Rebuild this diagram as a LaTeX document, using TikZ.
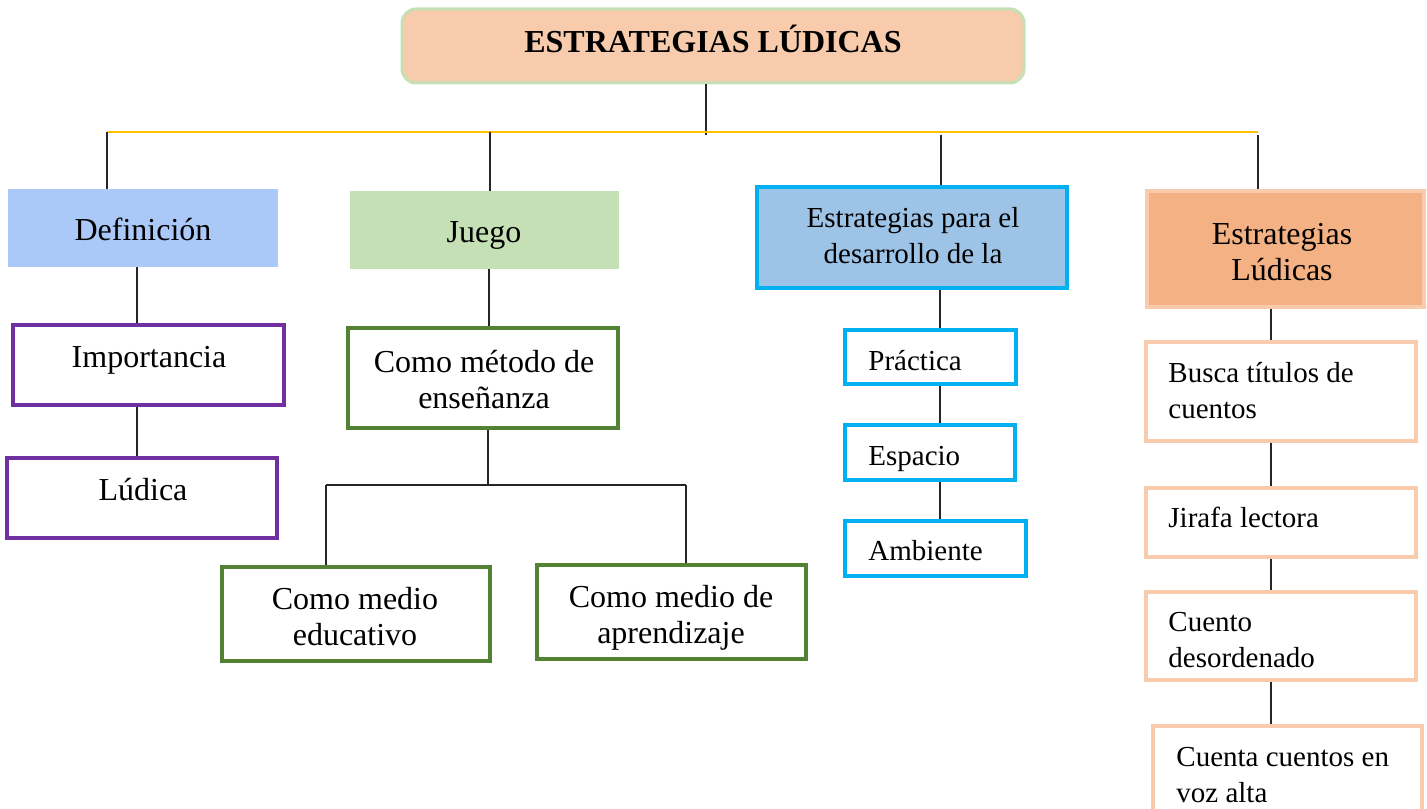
\documentclass[tikz,border=0pt]{standalone}
\usepackage{fontspec}
\setmainfont{Liberation Serif}
\usetikzlibrary{fit}
\definecolor{peach}{HTML}{F7CBAC}
\definecolor{lgreen}{HTML}{C5E0B4}
\definecolor{gold}{HTML}{FFC000}
\definecolor{defblue}{HTML}{AAC8F8}
\definecolor{midblue}{HTML}{9DC3E6}
\definecolor{cyanb}{HTML}{00B0F0}
\definecolor{orangef}{HTML}{F4B183}
\definecolor{purpleb}{HTML}{7030A0}
\definecolor{greenb}{HTML}{548235}
\begin{document}
\begin{tikzpicture}[x=0.5pt,y=-0.5pt,
  box/.style={fit={#1}, inner sep=0pt},
  purplebox/.style={draw=purpleb, line width=1.8pt, fill=white},
  greenbox/.style={draw=greenb, line width=2pt, fill=white},
  cyanbox/.style={draw=cyanb, line width=1.8pt, fill=white},
  peachbox/.style={draw=peach, line width=1.6pt, fill=white},
  big/.style={font=\fontsize{16}{18}\selectfont, inner sep=0pt, anchor=base, align=center},
  small/.style={font=\fontsize{14.5}{18}\selectfont, inner sep=0pt, anchor=base west, align=left},
  smallc/.style={font=\fontsize{14.5}{18}\selectfont, inner sep=0pt, anchor=base, align=center},
  conn/.style={draw=black!85, line width=0.6pt}]
\clip (0,0) rectangle (1427,808);
\fill[white] (0,0) rectangle (1427,808);

% title
\node[box={(402,9)(1024,83)}, rounded corners=7pt, fill=peach, draw=lgreen, line width=1.5pt] (title) {};
\node[font=\fontsize{16}{18}\selectfont\bfseries, inner sep=0pt, anchor=base] (titlet) at (713,53) {ESTRATEGIAS LÚDICAS};

% level 1 (multi-line nodes are placed at the baseline of their last line)
\node[box={(8,189)(278,267)}, fill=defblue] (def) {};
\node[big] (deft) at (143,240) {Definición};
\node[box={(350,191)(619,269)}, fill=lgreen] (juego) {};
\node[big] (juegot) at (484,242) {Juego};
\node[box={(757,187)(1067,288)}, fill=midblue, draw=cyanb, line width=1.8pt] (est) {};
\node[smallc] (estt) at (913,263) {Estrategias para el\\desarrollo de la};
\node[box={(1147,191)(1424,307)}, fill=orangef, draw=peach, line width=1.6pt] (lud) {};
\node[big] (ludt) at (1282,280) {Estrategias\\Lúdicas};

% Definicion column
\node[box={(13,325)(284,405)}, purplebox] (imp) {};
\node[big] (impt) at (149,367) {Importancia};
\node[box={(7,458)(277,538)}, purplebox] (ludica) {};
\node[big] (ludicat) at (143,500) {Lúdica};

% Juego column
\node[box={(348,328)(618,428)}, greenbox] (met) {};
\node[big] (mett) at (484,408) {Como método de\\enseñanza};
\node[box={(222,567)(490,661)}, greenbox] (edu) {};
\node[big] (edut) at (355,645) {Como medio\\educativo};
\node[box={(537,565)(806,659)}, greenbox] (apr) {};
\node[big] (aprt) at (671,643) {Como medio de\\aprendizaje};

% Estrategias para el desarrollo column
\node[box={(845,330)(1016,384)}, cyanbox] (prac) {};
\node[small] (pract) at (868,370) {Práctica};
\node[box={(845,425)(1015,480)}, cyanbox] (esp) {};
\node[small] (espt) at (868,465) {Espacio};
\node[box={(845,521)(1026,576)}, cyanbox] (amb) {};
\node[small] (ambt) at (868,560) {Ambiente};

% Estrategias Ludicas column
\node[box={(1146,342)(1416,441)}, peachbox] (busca) {};
\node[small] (buscat) at (1168,418) {Busca títulos de\\cuentos};
\node[box={(1146,488)(1416,557)}, peachbox] (jira) {};
\node[small] (jirat) at (1168,527) {Jirafa lectora};
\node[box={(1146,592)(1416,680)}, peachbox] (cuento) {};
\node[small] (cuentot) at (1168,667) {Cuento\\desordenado};
\node[box={(1153,726)(1422,860)}, peachbox] (cuenta) {};
\node[small] (cuentat) at (1176,802) {Cuenta cuentos en\\voz alta};

% connectors
\coordinate (yl) at (107,132);
\coordinate (yr) at (1258,132);
\coordinate (s0) at (706,135);
\coordinate (j0) at (490,132);
\coordinate (e0) at (941,135);
\coordinate (r0) at (1258,135);
\draw[conn] (title.south -| s0) -- (s0);
\draw[draw=gold, line width=0.8pt] (yl) -- (yr);
\draw[conn] (yl) -- (def.north -| yl);
\draw[conn] (j0) -- (juego.north -| j0);
\draw[conn] (e0) -- (est.north -| e0);
\draw[conn] (r0) -- (lud.north -| r0);

\coordinate (c1) at (137,0);
\draw[conn] (def.south -| c1) -- (imp.north -| c1);
\draw[conn] (imp.south -| c1) -- (ludica.north -| c1);

\coordinate (c2) at (489,0);
\draw[conn] (juego.south -| c2) -- (met.north -| c2);
\coordinate (c3) at (488,485);
\coordinate (cl) at (326,485);
\coordinate (cr) at (686,485);
\draw[conn] (met.south -| c3) -- (c3);
\draw[conn] (cl) -- (cr);
\draw[conn] (cl) -- (edu.north -| cl);
\draw[conn] (cr) -- (apr.north -| cr);

\coordinate (c4) at (940,0);
\draw[conn] (est.south -| c4) -- (prac.north -| c4);
\draw[conn] (prac.south -| c4) -- (esp.north -| c4);
\draw[conn] (esp.south -| c4) -- (amb.north -| c4);

\coordinate (c6) at (1271,0);
\draw[conn] (lud.south -| c6) -- (busca.north -| c6);
\draw[conn] (busca.south -| c6) -- (jira.north -| c6);
\draw[conn] (jira.south -| c6) -- (cuento.north -| c6);
\draw[conn] (cuento.south -| c6) -- (cuenta.north -| c6);
\end{tikzpicture}
\end{document}
